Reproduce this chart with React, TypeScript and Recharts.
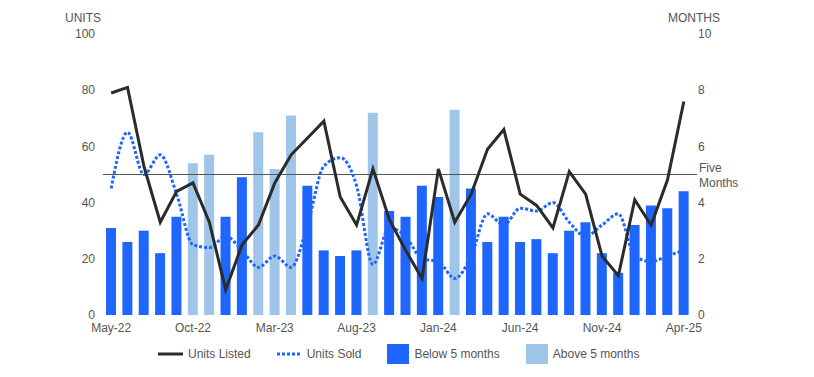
import React from "react";
import {
  ComposedChart,
  Bar,
  Line,
  XAxis,
  YAxis,
  Legend,
  ReferenceLine,
  Label,
} from "recharts";

// Месяцы по оси X
const months = [
  "May-22", "Jun-22", "Jul-22", "Aug-22", "Sep-22", "Oct-22",
  "Nov-22", "Dec-22", "Jan-23", "Feb-23", "Mar-23", "Apr-23",
  "May-23", "Jun-23", "Jul-23", "Aug-23", "Sep-23", "Oct-23",
  "Nov-23", "Dec-23", "Jan-24", "Feb-24", "Mar-24", "Apr-24",
  "May-24", "Jun-24", "Jul-24", "Aug-24", "Sep-24", "Oct-24",
  "Nov-24", "Dec-24", "Jan-25", "Feb-25", "Mar-25", "Apr-25",
];

// Левая ось (UNITS)
const unitsListed = [
  79, 81, 53, 33, 44, 47, 33, 9, 25, 32, 47, 57,
  63, 69, 42, 32, 52, 34, 23, 13, 52, 33, 43, 59,
  66, 43, 39, 31, 51, 43, 21, 14, 41, 32, 48, 76,
];

const unitsSold = [
  45, 65, 50, 57, 43, 25, 24, 28, 23, 17, 21, 17,
  32, 53, 56, 46, 18, 31, 28, 20, 19, 13, 21, 36,
  32, 38, 37, 40, 33, 28, 32, 36, 21, 19, 21, 23,
];

// Правая ось (MONTHS)
const monthsSupply = [
  3.1, 2.6, 3.0, 2.2, 3.5, 5.4, 5.7, 3.5, 4.9, 6.5, 5.2, 7.1,
  4.6, 2.3, 2.1, 2.3, 7.2, 3.7, 3.5, 4.6, 4.2, 7.3, 4.5, 2.6,
  3.5, 2.6, 2.7, 2.2, 3.0, 3.3, 2.2, 1.5, 3.2, 3.9, 3.8, 4.4,
];

const leftTicks = [0, 20, 40, 60, 80, 100];
const rightTicks = [0, 2, 4, 6, 8, 10];
const threshold = 5;

const data = months.map((m, i) => ({
  month: m,
  listed: unitsListed[i],
  sold: unitsSold[i],
  below: monthsSupply[i] < threshold ? monthsSupply[i] : null,
  above: monthsSupply[i] >= threshold ? monthsSupply[i] : null,
}));

const TEXT = "#555";
const FONT = "Arial, 'Liberation Sans', sans-serif";

const legendItems = [
  { name: "Units Listed", kind: "line" },
  { name: "Units Sold", kind: "dots" },
  { name: "Below 5 months", kind: "box", color: "#1f66ff" },
  { name: "Above 5 months", kind: "box", color: "#9fc5e8" },
];

const renderLegend = () => (
  <div style={{ display: "flex", alignItems: "center", fontFamily: FONT, fontSize: 12, color: TEXT }}>
    {legendItems.map((it) => (
      <div key={it.name} style={{ display: "flex", alignItems: "center", marginRight: 26 }}>
        {it.kind === "box" ? (
          <div style={{ width: 22, height: 20, background: it.color }} />
        ) : (
          <svg width={25} height={6}>
            <line
              x1={0}
              y1={3}
              x2={25}
              y2={3}
              stroke={it.kind === "line" ? "#2b2b2b" : "#1f66ff"}
              strokeWidth={3}
              strokeDasharray={it.kind === "dots" ? "3 2" : undefined}
            />
          </svg>
        )}
        <span style={{ marginLeft: 5 }}>{it.name}</span>
      </div>
    ))}
  </div>
);

// линия "Five Months" чуть выходит за правый край области графика
const FiveLine = (props: any) => {
  const a = Number(props.x1);
  const b = Number(props.x2);
  const left = Math.min(a, b);
  const right = Math.max(a, b);
  const y = Number(props.y1);
  return (
    <g>
      <line x1={left} y1={y} x2={right + 5} y2={y} stroke="#555" strokeWidth={1} />
      <text x={right + 7} y={y - 3} fill={TEXT} fontSize={12} fontFamily={FONT}>Five</text>
      <text x={right + 7} y={y + 12} fill={TEXT} fontSize={12} fontFamily={FONT}>Months</text>
    </g>
  );
};

export default function App() {
  return (
    <ComposedChart
      width={798}
      height={361}
      data={data}
      margin={{ top: 26, right: 74, bottom: 24, left: 55 }}
      style={{ fontFamily: FONT }}
    >
      <XAxis
        dataKey="month"
        interval={4}
        axisLine={false}
        tickLine={false}
        tick={{ fill: TEXT, fontSize: 12 }}
      />
      <YAxis
        yAxisId="units"
        domain={[0, 100]}
        ticks={leftTicks}
        width={40}
        axisLine={false}
        tickLine={false}
        tick={{ fill: TEXT, fontSize: 12 }}
      >
        <Label
          content={(p: any) => (
            <text x={p.viewBox.x + 2} y={p.viewBox.y - 12} fill={TEXT} fontSize={12} fontFamily={FONT}>
              UNITS
            </text>
          )}
        />
      </YAxis>
      <YAxis
        yAxisId="months"
        orientation="right"
        domain={[0, 10]}
        ticks={rightTicks}
        width={40}
        axisLine={false}
        tickLine={false}
        tickMargin={0}
        tick={{ fill: TEXT, fontSize: 12 }}
      >
        <Label
          content={(p: any) => (
            <text x={p.viewBox.x - 24} y={p.viewBox.y - 12} fill={TEXT} fontSize={12} fontFamily={FONT}>
              MONTHS
            </text>
          )}
        />
      </YAxis>
      <Bar yAxisId="months" dataKey="below" stackId="s" fill="#1f66ff" barSize={10} isAnimationActive={false} />
      <Bar yAxisId="months" dataKey="above" stackId="s" fill="#9fc5e8" barSize={10} isAnimationActive={false} />
      <ReferenceLine yAxisId="months" y={threshold} shape={FiveLine} ifOverflow="visible" />
      <Line
        yAxisId="units"
        type="monotone"
        dataKey="sold"
        stroke="#1f66ff"
        strokeWidth={3}
        strokeDasharray="3 2"
        dot={false}
        isAnimationActive={false}
      />
      <Line
        yAxisId="units"
        type="linear"
        dataKey="listed"
        stroke="#2b2b2b"
        strokeWidth={3}
        dot={false}
        isAnimationActive={false}
      />
      <Legend
        verticalAlign="middle"
        content={renderLegend}
        wrapperStyle={{ position: "absolute", top: 336, left: 150, width: 600 }}
      />
    </ComposedChart>
  );
}
